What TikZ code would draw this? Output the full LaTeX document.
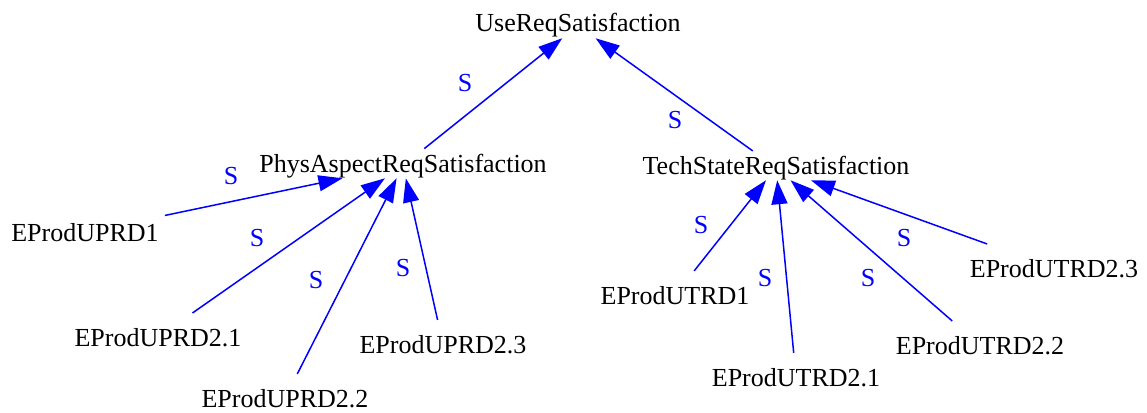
\documentclass[tikz,border=0pt]{standalone}
\usepackage{fontspec}
\setmainfont{Liberation Serif}
\usetikzlibrary{arrows.meta}

\begin{document}
\begin{tikzpicture}[
  x=1pt, y=-1pt,
  >={Triangle[length=24pt, width=16pt]},
  every node/.style={font=\fontsize{26}{30}\selectfont},
]

\tikzset{
  goal/.style={anchor=base, inner sep=0.5pt},
  leaf/.style={anchor=base, inner xsep=6pt, inner ysep=0pt, minimum height=48pt},
  satlink/.style={->, blue, line width=1.5pt},
  satlabel/.style={text=blue, inner sep=0pt},
}

\useasboundingbox (0,0) rectangle (1147,412);

% ---- goals ----
\node[goal] (usereq)  at (578,32)  {UseReqSatisfaction};
\node[goal] (physreq) at (403,172) {PhysAspectReqSatisfaction};
\node[goal] (techreq) at (776,174) {TechStateReqSatisfaction};

% ---- evidence (phys) ----
\node[leaf] (uprd1)  at (85,241)  {EProdUPRD1};
\node[leaf] (uprd21) at (158,346) {EProdUPRD2.1};
\node[leaf] (uprd22) at (285,407) {EProdUPRD2.2};
\node[leaf] (uprd23) at (443,353) {EProdUPRD2.3};

% ---- evidence (tech) ----
\node[leaf] (utrd1)  at (675,304) {EProdUTRD1};
\node[leaf] (utrd21) at (796,386) {EProdUTRD2.1};
\node[leaf] (utrd22) at (980,354) {EProdUTRD2.2};
\node[leaf] (utrd23) at (1054,277) {EProdUTRD2.3};

% ---- links ----
\draw[satlink, shorten <=7pt] (physreq) -- (usereq);
\draw[satlink, shorten <=7pt] (techreq) -- (usereq);
\draw[satlink] (uprd1)  -- (physreq);
\draw[satlink] (uprd21) -- (physreq);
\draw[satlink] (uprd22) -- (physreq);
\draw[satlink] (uprd23) -- (physreq);
\draw[satlink] (utrd1)  -- (techreq);
\draw[satlink] (utrd21) -- (techreq);
\draw[satlink] (utrd22) -- (techreq);
\draw[satlink] (utrd23) -- (techreq);

% ---- link labels ----
\node[satlabel] (s1)  at (465,83)  {S};
\node[satlabel] (s2)  at (675,120) {S};
\node[satlabel] (s3)  at (231,176) {S};
\node[satlabel] (s4)  at (257,238) {S};
\node[satlabel] (s5)  at (316,280) {S};
\node[satlabel] (s6)  at (403,268) {S};
\node[satlabel] (s7)  at (701,225) {S};
\node[satlabel] (s8)  at (765,278) {S};
\node[satlabel] (s9)  at (868,278) {S};
\node[satlabel] (s10) at (904,238) {S};

\end{tikzpicture}
\end{document}
